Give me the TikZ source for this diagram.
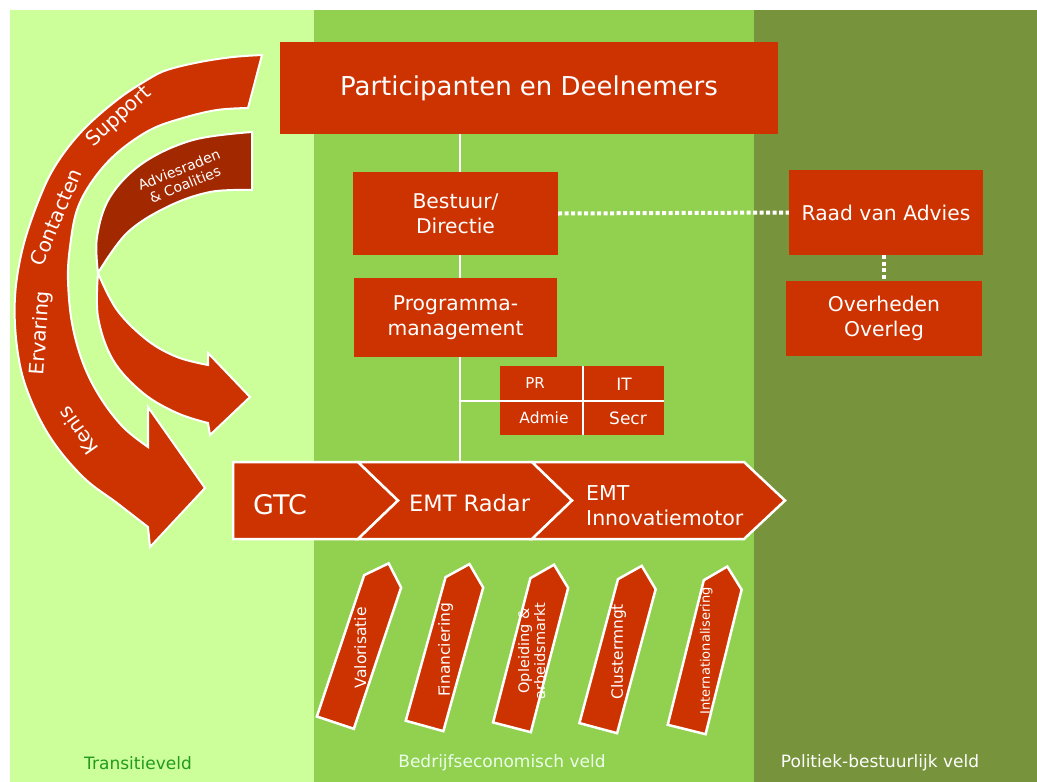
\documentclass[tikz,border=0pt]{standalone}
\usepackage{fontspec}
\setmainfont{DejaVu Sans}
\definecolor{lightg}{HTML}{CCFF99}
\definecolor{midg}{HTML}{92D050}
\definecolor{darkg}{HTML}{77933C}
\definecolor{redc}{HTML}{CC3300}
\definecolor{darkredc}{HTML}{A22800}
\definecolor{labelg}{HTML}{229A1A}
\tikzset{
  box/.style={fill=redc, draw=none, text=white, align=center, inner sep=0pt},
  band/.style={fill=redc, draw=white, line width=2.5pt, line join=miter},
  arrowshape/.style={fill=redc, draw=white, line width=2pt, line join=miter},
  wline/.style={draw=white, line width=2.5pt},
  dotline/.style={draw=white, line width=4pt, dash pattern=on 4pt off 2.5pt},
  wtext/.style={text=white, inner sep=0pt, align=center},
  penta/.style={fill=redc, draw=white, line width=2.5pt, line join=miter},
}
\newcommand{\fs}[2]{\fontsize{#1}{#2}\selectfont}
\begin{document}
\begin{tikzpicture}[x=1pt,y=-1pt]
\useasboundingbox (0,0) rectangle (1037,782);
\fill[white] (0,0) rectangle (1037,782);
% fields
\fill[lightg] (10,10) rectangle (314,782);
\fill[midg] (314,10) rectangle (754,782);
\fill[darkg] (754,10) rectangle (1037,782);

% coordinates for trunk
\coordinate (tx) at (460,0);
\coordinate (bandtop) at (460,462);

% boxes
\node[box, minimum width=498pt, minimum height=92pt, font=\fs{26}{30}] (part) at (529,88) {Participanten en Deelnemers};
\draw[wline] (part.south -| tx) -- (bandtop);
\draw[wline] (460,401) -- (664,401);

\node[box, minimum width=205pt, minimum height=83pt, font=\fs{20.3}{25}] (bestuur) at (455.5,213.5) {Bestuur/\\Directie};
\node[box, minimum width=203pt, minimum height=79pt, font=\fs{20.3}{24.5}] (prog) at (455.5,317.5) {Programma-\\management};
\node[box, minimum width=194pt, minimum height=85pt, font=\fs{20.3}{25}] (raad) at (886,212.5) {Raad van Advies};
\node[box, minimum width=196pt, minimum height=75pt, font=\fs{20.3}{25}] (overh) at (884,318.5) {Overheden\\Overleg};

\draw[dotline] (bestuur.east) -- (raad.west);
\draw[dotline] (raad.south -| overh) -- (overh.north);

% support cells
\node[box, minimum width=83pt, minimum height=35pt] (pr) at (541.5,383.5) {};
\node[box, minimum width=81pt, minimum height=35pt] (it) at (623.5,383.5) {};
\node[box, minimum width=83pt, minimum height=34pt] (admie) at (541.5,418) {};
\node[box, minimum width=81pt, minimum height=34pt] (secr) at (623.5,418) {};
\node[wtext, font=\fs{15}{18}] at (535,383) {PR};
\node[wtext, font=\fs{17}{20}] at (624,384) {IT};
\node[wtext, font=\fs{15.5}{18}] at (544,418) {Admie};
\node[wtext, font=\fs{17}{20}] at (628,418) {Secr};
\draw[wline] (pr.north east) -- (admie.south east);
\draw[wline] (pr.south west -| tx) -- (it.south east);

% chevrons
\draw[band] (233,462) -- (358,462) -- (398,500.5) -- (358,539) -- (233,539) -- cycle;
\draw[band] (358,462) -- (532,462) -- (572,500.5) -- (532,539) -- (358,539) -- (398,500.5) -- cycle;
\draw[band] (532,462) -- (744,462) -- (785,500.5) -- (744,539) -- (532,539) -- (572,500.5) -- cycle;
\node[wtext, anchor=west, font=\fs{27}{30}] (gtc) at (253,505) {GTC};
\node[wtext, anchor=west, font=\fs{22.5}{26}] (radar) at (409,503) {EMT Radar};
\node[wtext, anchor=west, align=left, font=\fs{20.5}{25}] (innov) at (586,505.5) {EMT\\Innovatiemotor};

% big curved arrow
\draw[arrowshape] (262,55)
  -- plot[smooth, tension=0.6] coordinates {(262,55) (233,57) (200,62) (167,70) (147,80) (117,100) (83,130) (57,163) (40,197) (23,247) (15,297) (17,347) (27,390) (50,437) (83,477) (117,503) (148,527)}
  -- (150,547) -- (205,488) -- (148,407) -- (148,447)
  -- plot[smooth, tension=0.6] coordinates {(148,447) (123,427) (100,397) (83,363) (72,323) (68,280) (70,247) (77,210) (93,180) (117,153) (150,130) (183,118) (217,110) (248,108)}
  -- cycle;
\node[wtext, rotate=42, font=\fs{20}{22}] at (119,117) {Support};
\node[wtext, rotate=67, font=\fs{20}{22}] at (56,217) {Contacten};
\node[wtext, rotate=86, font=\fs{20}{22}] at (41,333) {Ervaring};
\node[wtext, rotate=125, font=\fs{20}{22}] at (78,431) {Kenis};

% inner arrow: dark tail
\draw[arrowshape, fill=darkredc] (252,132)
  -- plot[smooth, tension=0.6] coordinates {(252,132) (193,140) (143,163) (110,197) (97,237) (98,273)}
  -- plot[smooth, tension=0.6] coordinates {(98,273) (127,233) (167,207) (210,192) (252,190)}
  -- cycle;
\node[wtext, rotate=22, font=\fs{14}{16}] at (182,177) {Adviesraden\\\& Coalities};
% inner arrow: red head
\draw[arrowshape] (98,273)
  -- plot[smooth, tension=0.6] coordinates {(98,273) (98,317) (113,360) (143,393) (177,413) (208,423)}
  -- (210,435) -- (250,397) -- (208,353) -- (208,365)
  -- plot[smooth, tension=0.6] coordinates {(208,365) (177,357) (147,340) (117,310) (98,273)}
  -- cycle;

% pentagons
\begin{scope}[shift={(362,643)}, rotate=-18.5]
  \draw[penta] (-19.5,84) -- (19.5,84) -- (19.5,-65) -- (0,-84) -- (-19.5,-65) -- cycle;
  \node[wtext, rotate=90, font=\fs{15.5}{18}] (val) at (0,5) {Valorisatie};
\end{scope}
\begin{scope}[shift={(447,645)}, rotate=-15.5]
  \draw[penta] (-19.5,84) -- (19.5,84) -- (19.5,-65) -- (0,-84) -- (-19.5,-65) -- cycle;
  \node[wtext, rotate=90, font=\fs{15.5}{18}] (fin) at (0,5) {Financiering};
\end{scope}
\begin{scope}[shift={(533,646)}, rotate=-14.5]
  \draw[penta] (-19.5,84) -- (19.5,84) -- (19.5,-65) -- (0,-84) -- (-19.5,-65) -- cycle;
  \node[wtext, rotate=90, font=\fs{14.5}{16}] (opl) at (0,5) {Opleiding \&\\arbeidsmarkt};
\end{scope}
\begin{scope}[shift={(620,647)}, rotate=-15]
  \draw[penta] (-19.5,84) -- (19.5,84) -- (19.5,-65) -- (0,-84) -- (-19.5,-65) -- cycle;
  \node[wtext, rotate=90, font=\fs{15.5}{18}] (clu) at (0,5) {Clustermngt};
\end{scope}
\begin{scope}[shift={(707,648)}, rotate=-14]
  \draw[penta] (-19.5,84) -- (19.5,84) -- (19.5,-65) -- (0,-84) -- (-19.5,-65) -- cycle;
  \node[wtext, rotate=90, font=\fs{13}{15}] (int) at (0,3) {Internationalisering};
\end{scope}

% field labels
\node[inner sep=0pt, text=labelg, font=\fs{17}{20}] (lt) at (138,763) {Transitieveld};
\node[wtext, text=white!92!green, font=\fs{17}{20}] (lb) at (502,763) {Bedrijfseconomisch veld};
\node[wtext, font=\fs{17}{20}] (lp) at (880,763) {Politiek-bestuurlijk veld};
\end{tikzpicture}
\end{document}
